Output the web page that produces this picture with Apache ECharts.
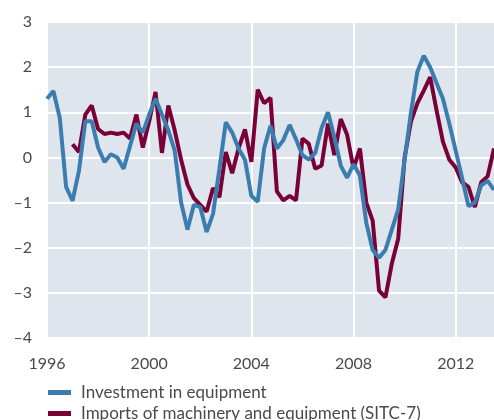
<!DOCTYPE html>
<html>
<head>
<meta charset="utf-8">
<script src="https://cdn.jsdelivr.net/npm/echarts@6/dist/echarts.min.js"></script>
<style>
  html, body { margin: 0; padding: 0; background: #fff; }
  #chart { width: 494px; height: 420px; }
</style>
</head>
<body>
<div id="chart"></div>
<script>
// quarterly, 1996Q1 .. 2013Q3
const startYear = 1996;
const quarterCount = 71;
const quarters = [];
for (let i = 0; i < quarterCount; i++) {
  quarters.push(startYear + Math.floor(i / 4) + "Q" + ((i % 4) + 1));
}

const investment = [
  1.3, 1.47, 0.88, -0.66, -0.96, -0.3, 0.8, 0.8, 0.22, -0.1,
  0.07, 0.0, -0.25, 0.25, 0.75, 0.55, 0.95, 1.3, 0.95, 0.6,
  0.15, -1.0, -1.6, -1.05, -1.1, -1.65, -1.25, -0.25, 0.78, 0.55,
  0.2, -0.05, -0.85, -0.98, 0.2, 0.7, 0.2, 0.38, 0.72, 0.4,
  0.05, -0.05, 0.1, 0.65, 1.0, 0.45, -0.18, -0.45, -0.15, -0.4,
  -1.45, -2.05, -2.22, -2.05, -1.6, -1.15, -0.05, 1.0, 1.9, 2.25,
  2.0, 1.65, 1.3, 0.75, 0.15, -0.45, -1.08, -1.0, -0.62, -0.52,
  -0.72
];

const imports = [
  null, null, null, null, 0.29, 0.12, 0.95, 1.15, 0.63, 0.52,
  0.55, 0.52, 0.55, 0.42, 0.95, 0.22, 0.8, 1.45, 0.1, 1.15,
  0.6, -0.05, -0.6, -0.9, -1.05, -1.2, -0.68, -0.88, 0.12, -0.35,
  0.2, 0.62, -0.1, 1.5, 1.2, 1.32, -0.75, -0.95, -0.85, -0.95,
  0.42, 0.3, -0.25, -0.18, 0.75, 0.05, 0.85, 0.5, -0.25, 0.2,
  -1.0, -1.4, -2.95, -3.1, -2.35, -1.8, 0.0, 0.8, 1.2, 1.48,
  1.78, 1.05, 0.35, -0.05, -0.22, -0.55, -0.65, -1.1, -0.55, -0.42,
  0.2
];

const seriesNames = ["Investment in equipment", "Imports of machinery and equipment (SITC-7)"];
const tickEvery = 16; // every 4 years

const textColor = "#4a4a4a";
const fontFamily = "Lato, 'Open Sans', sans-serif";

const chart = echarts.init(document.getElementById("chart"));
chart.setOption({
  animation: false,
  textStyle: { fontFamily: fontFamily },
  grid: {
    left: 47,
    right: 0,
    top: 22,
    bottom: 82,
    show: true,
    backgroundColor: "#dfe5ed",
    borderWidth: 0
  },
  legend: {
    data: seriesNames,
    orient: "vertical",
    left: 48,
    top: 383,
    height: 100,
    padding: 0,
    itemWidth: 23,
    itemHeight: 5,
    itemGap: 2,
    icon: "rect",
    textStyle: { color: textColor, fontSize: 17, lineHeight: 19, padding: [0, 0, 0, 5] }
  },
  xAxis: {
    type: "category",
    data: quarters,
    boundaryGap: false,
    axisLine: { show: false },
    axisTick: { show: false },
    axisLabel: {
      interval: (i) => i % tickEvery === 0,
      formatter: (v) => v.slice(0, 4),
      color: textColor,
      fontSize: 16,
      margin: 18
    },
    splitLine: {
      show: true,
      interval: (i) => i % tickEvery === 0,
      lineStyle: { color: "#fff", width: 2 }
    }
  },
  yAxis: {
    type: "value",
    min: -4,
    max: 3,
    interval: 1,
    axisLine: { show: false },
    axisTick: { show: false },
    axisLabel: {
      color: textColor,
      fontSize: 16,
      margin: 15,
      formatter: (v) => (v < 0 ? "\u2013" + Math.abs(v) : String(v))
    },
    splitLine: { lineStyle: { color: "#fff", width: 2 } }
  },
  series: [
    {
      name: seriesNames[0],
      type: "line",
      data: investment,
      showSymbol: false,
      symbol: "none",
      z: 3,
      itemStyle: { color: "#3c7db0" },
      lineStyle: { color: "#3c7db0", width: 4 }
    },
    {
      name: seriesNames[1],
      type: "line",
      data: imports,
      showSymbol: false,
      symbol: "none",
      z: 2,
      itemStyle: { color: "#7a0038" },
      lineStyle: { color: "#7a0038", width: 4 }
    }
  ]
});
</script>
</body>
</html>
